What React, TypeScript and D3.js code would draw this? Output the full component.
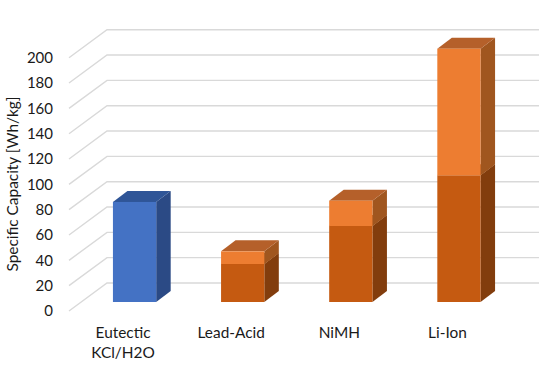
import React, { useEffect, useRef } from 'react';
import * as d3 from 'd3';

const categories = ['Eutectic KCl/H2O', 'Lead-Acid', 'NiMH', 'Li-Ion'];
const eutecticValues = [79, 0, 0, 0];
const baseValues = [0, 30, 60, 100];
const upperValues = [0, 10, 20, 100];
const yTicks = [0, 20, 40, 60, 80, 100, 120, 140, 160, 180, 200];
const seriesKeys = ['eutectic', 'base', 'upper'];

const faces: Record<string, { front: string; side: string; top: string }> = {
  eutectic: { front: '#4472c4', side: '#2b4a85', top: '#2f5597' },
  base: { front: '#c55a11', side: '#823d0d', top: '#a85a20' },
  upper: { front: '#ed7d31', side: '#a0561f', top: '#b5602a' },
};

const App = () => {
  const svgRef = useRef<SVGSVGElement>(null);

  useEffect(() => {
    const svg = d3.select(svgRef.current);
    svg.selectAll('*').remove(); // Clear previous contents

    const font = 'Lato, Carlito, sans-serif';
    const wall = { dx: 38, dy: -28 }; // front plane to back wall
    const inset = { dx: 11.5, dy: -9 }; // front plane to bar front
    const depth = { dx: 14.5, dy: -11 }; // bar depth

    const x = d3.scaleBand()
      .domain(categories)
      .range([69, 501.5])
      .paddingInner(0.6)
      .paddingOuter(0.3);

    const y = d3.scaleLinear().domain([0, 200]).range([311, 57.7]);

    // walls
    const grid = svg.append('g')
      .attr('fill', 'none')
      .attr('stroke', '#d9d9d9')
      .attr('stroke-width', 1.4);

    grid.selectAll('path')
      .data(yTicks)
      .enter()
      .append('path')
      .attr('d', d => {
        const line = d3.path();
        line.moveTo(69, y(d));
        line.lineTo(69 + wall.dx, y(d) + wall.dy);
        line.lineTo(539, y(d) + wall.dy);
        return line.toString();
      });

    // bars
    const rows = categories.map((c, i) => ({
      category: c,
      eutectic: eutecticValues[i],
      base: baseValues[i],
      upper: upperValues[i],
    }));
    const stacked = d3.stack<any>().keys(seriesKeys)(rows);

    stacked.forEach(series => {
      const colors = faces[series.key];
      const segments = series.filter(d => d[1] > d[0]);

      const g = svg.append('g');

      segments.forEach(d => {
        const left = x(d.data.category)! + inset.dx;
        const right = left + x.bandwidth();
        const top = y(d[1]) + inset.dy;
        const bottom = y(d[0]) + inset.dy;

        g.append('polygon')
          .attr('points', [
            [right, top],
            [right + depth.dx, top + depth.dy],
            [right + depth.dx, bottom + depth.dy],
            [right, bottom],
          ].join(' '))
          .attr('fill', colors.side);

        g.append('polygon')
          .attr('points', [
            [left, top],
            [left + depth.dx, top + depth.dy],
            [right + depth.dx, top + depth.dy],
            [right, top],
          ].join(' '))
          .attr('fill', colors.top);

        g.append('rect')
          .attr('x', left)
          .attr('y', top)
          .attr('width', x.bandwidth())
          .attr('height', bottom - top)
          .attr('fill', colors.front);
      });
    });

    // y axis
    const yAxis = svg.append('g')
      .attr('transform', 'translate(59,0)')
      .call(d3.axisLeft(y).tickValues(yTicks).tickSize(0).tickPadding(6));
    yAxis.select('.domain').remove();
    yAxis.selectAll('text')
      .attr('font-family', font)
      .attr('font-size', 15)
      .attr('fill', '#1a1a1a');

    // x labels, wrapped on the space of the first one only
    const labels = svg.append('g')
      .attr('font-family', font)
      .attr('font-size', 15.4)
      .attr('fill', '#1a1a1a')
      .attr('text-anchor', 'middle');

    categories.forEach(c => {
      const cx = x(c)! + x.bandwidth() / 2;
      const lines = c === categories[0] ? c.split(' ') : [c];
      lines.forEach((line, i) => {
        labels.append('text')
          .attr('x', cx)
          .attr('y', 338 + i * 20)
          .text(line);
      });
    });

    svg.append('text')
      .attr('transform', 'translate(18,184) rotate(-90)')
      .attr('text-anchor', 'middle')
      .attr('font-family', font)
      .attr('font-size', 15.4)
      .attr('fill', '#1a1a1a')
      .text('Specific Capacity [Wh/kg]');
  }, []);

  return (
    <svg
      ref={svgRef}
      width={550}
      height={373}
      viewBox="0 0 550 373"
      style={{ position: 'absolute', left: 0, top: 0, background: '#fff' }}
    />
  );
};

export default App;
